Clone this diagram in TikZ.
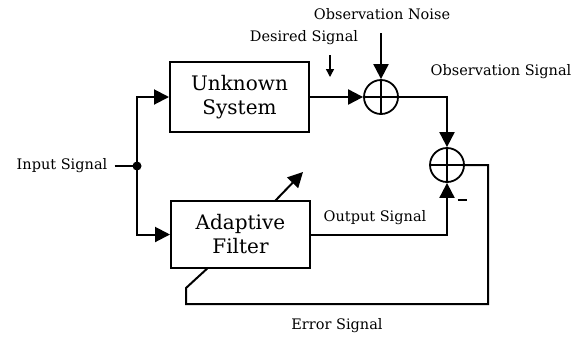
\documentclass[tikz,border=0pt]{standalone}
\usepackage{fontspec}
\setmainfont{DejaVu Serif}
\usetikzlibrary{arrows.meta}
\tikzset{
  block/.style={draw, line width=2pt, minimum width=139pt, inner sep=0pt,
    align=center, font=\fontsize{20}{24}\selectfont},
  summer/.style={draw, circle, line width=1.8pt, minimum size=34pt, inner sep=0pt},
  lbl/.style={font=\fontsize{14.5}{17}\selectfont, inner sep=1pt},
  wire/.style={line width=2pt},
  sig/.style={wire, -{Triangle[length=15pt,width=15pt]}},
  smallsig/.style={line width=1.4pt, -{Triangle[length=8pt,width=8pt]}},
}
\begin{document}
\begin{tikzpicture}[x=1pt,y=-1pt]
\useasboundingbox (0,0) rectangle (577,338);

% blocks
\node[block, minimum height=70pt] (us) at (239.5,97) {Unknown\\System};
\node[block, minimum height=67pt] (af) at (240.5,234.5) {Adaptive\\Filter};

% summing junctions
\node[summer] (s1) at (381,97) {};
\node[summer] (s2) at (447,165) {};
\foreach \s in {s1,s2} {
  \draw[line width=1.5pt] (\s.north) -- (\s.south);
  \draw[line width=1.5pt] (\s.west) -- (\s.east);
}

% branch point for the input
\coordinate (jn) at (137,166);
\fill (jn) circle (4.5pt);

% labels
\node[lbl] (in) at (62,166) {Input Signal};
\node[lbl] (nz) at (382,14) {Observation Noise};
\node[lbl] (ds) at (304,38) {Desired Signal};
\node[lbl] (os) at (501,72) {Observation Signal};
\node[lbl] (out) at (375,218) {Output Signal};
\node[lbl] (err) at (337,326) {Error Signal};
\node[lbl] (minus) at (462,202) {\rule[0.5ex]{9pt}{1.5pt}};

% auxiliary points
\coordinate (nzs) at (381,33);
\coordinate (dsa) at (330,55);
\coordinate (dsb) at (330,77);
\coordinate (e1) at (488,304);
\coordinate (e2) at (186,304);
\coordinate (e3) at (186,288);
\coordinate (e4) at (208,267.8);
\coordinate (ada) at (275,201);
\coordinate (adb) at (303,172);

% connections
\draw[wire] (in.east) ++(6,0) -- (jn);
\draw[sig] (jn) |- (us.west);
\draw[sig] (jn) |- (af.west);
\draw[sig] (us.east) -- (s1.west);
\draw[sig] (nzs) -- (s1.north);
\draw[smallsig] (dsa) -- (dsb);
\draw[sig] (s1.east) -| (s2.north);
\draw[sig] (af.east) -| (s2.south);
\draw[wire] (s2.east) -| (e1) -- (e2) -- (e3) -- (e4);
\draw[sig] (ada) -- (adb);
\end{tikzpicture}
\end{document}
